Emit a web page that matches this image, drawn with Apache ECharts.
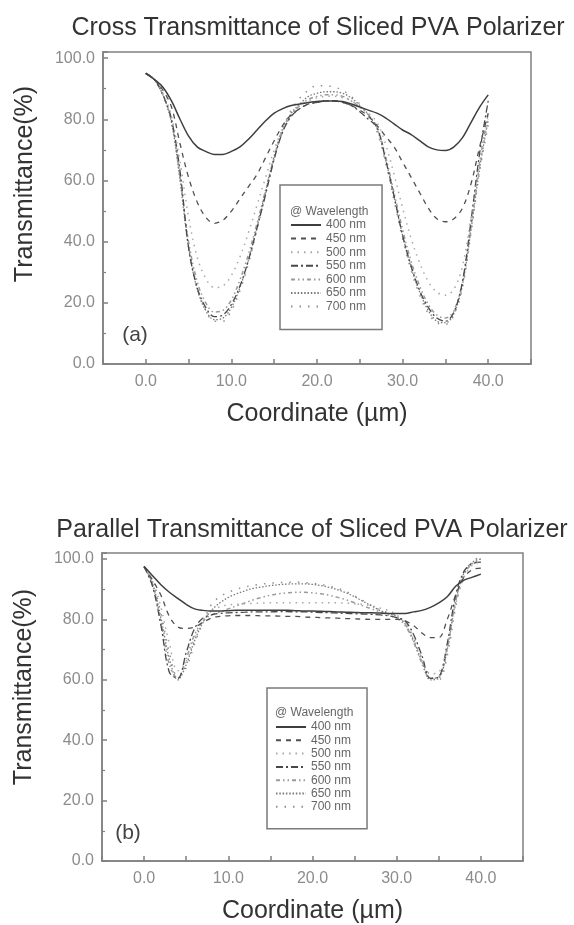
<!DOCTYPE html>
<html>
<head>
<meta charset="utf-8">
<script src="https://cdn.jsdelivr.net/npm/echarts@6/dist/echarts.min.js"></script>
<style>
  html, body { margin: 0; padding: 0; background: #fff; }
  #chart { width: 574px; height: 925px; }
</style>
</head>
<body>
<div id="chart"></div>
<script>
// x positions (µm)
const coords = [0,1,2,3,4,5,6,7,8,9,10,11,12,13,14,15,16,17,18,19,20,21,22,23,24,25,26,27,28,29,30,31,32,33,34,35,36,37,38,39,40]
const wavelengths = ['400 nm', '450 nm', '500 nm', '550 nm', '600 nm', '650 nm', '700 nm']
const xTicks = [0, 10, 20, 30, 40]
const yTicks = [0, 20, 40, 60, 80, 100]

// (a) cross transmittance
const cross400 = [95,93,90.5,86,80,74.5,71,69.5,68.5,68.5,69.5,71,73.5,76.5,79.5,82,83.5,84.5,85,85.5,85.8,86,86,85.8,85,84,83,82,80.5,78.5,76.5,75,73,71,70,69.8,71,74,79,84,88]
const cross450 = [95,93,89.5,84,72,61,53,48,46,47,50,54,58,62,67.5,73,78,81.5,83.5,85,85.5,86,86,85.5,84.5,83,81,78,74.5,71,66,61,56,51,47.5,46.5,47.5,51,59,71,82]
const cross500 = [95,93,88.5,81,66,48,35,28,25,25.5,29,35,43,52,61,70,77,81.5,84.5,86,87,87.5,87.5,87,86,84,82,79,72,62,51,41,33,27,23.5,22.5,24.5,32,48,65,80]
const cross550 = [95,93,88,80,63,38,25,18.5,15.5,16,19.5,25.5,34,44.5,55.5,67,76,81,83.5,85,85.5,86,86,85.5,84.5,82.5,80,77.5,67,55,42,32,24,18.5,15,14,17,27,47,69,86]
const cross600 = [95,93,88,79.5,61,40,27,20,17,17.5,21,27.5,36,46,57,67.5,76,81.5,84.5,86.5,87.5,88,88,87.5,86,84,81.5,77.5,68,56,44,33.5,25.5,19.5,16,15,17.5,27,45,66,82]
const cross650 = [95,93,88,79,60,38,24.5,17.5,14.5,15,18.5,25,34,45,56.5,68,77,82,85,87.5,88.5,89,89,88.5,87,84.5,81.5,77,67,54.5,42,31.5,23.5,17.5,14,13.5,16.5,26,44,64,80]
const cross700 = [95,93,88,79,61,39,25,17.5,14,14,17.5,24,33,44,56,67.5,77,83,87,89.5,91,91,90.5,89.5,87.5,85,81.5,76,66,53.5,41,30.5,22.5,16.5,13.5,13,16,25,43,63,78]

// (b) parallel transmittance
const par400 = [97.5,94.5,91.5,89,87,85,83.5,83,82.8,82.8,82.9,83,83,83,83,83,83,83,82.9,82.8,82.8,82.7,82.6,82.5,82.4,82.3,82.2,82.2,82.1,82,82,82,82.5,83,84,85.5,87.5,91,93,94,95]
const par450 = [97.5,93,88,81,77.5,77,77.5,79,80.5,81,81.2,81.3,81.3,81.3,81.2,81.2,81.1,81,81,80.8,80.7,80.6,80.5,80.4,80.3,80.2,80.1,80,80,80,80,79.5,78,75.5,74,74,80,88,94,96.5,97]
const par500 = [97.5,93,84,72,63,66,74,80,83,84.2,84.8,85,85.2,85.3,85.4,85.5,85.5,85.5,85.5,85.5,85.5,85.5,85.5,85.5,85.4,85.2,85,84.5,83.8,83,81.5,78.5,73.5,67,62,62.5,71,85,94,98,99]
const par550 = [97.5,91,78,62.5,60.5,69,77,80.5,81.5,82,82.2,82.3,82.4,82.5,82.5,82.5,82.6,82.6,82.5,82.5,82.4,82.3,82.2,82.1,82,81.9,81.8,81.7,81.5,81.2,80.6,79.5,75,68,60.5,61,72,88,96,98.5,99]
const par600 = [97.5,91.5,79,65,60.5,67,75,79.5,81.5,82.5,83.5,84.5,85.5,86.5,87.3,88,88.5,88.8,89,89,88.8,88.5,88,87.3,86.5,85.5,84.5,83.5,82.5,81.5,80.5,78,72.5,65.5,60.5,61,70,86,95,98.5,100]
const par650 = [97.5,92,80.5,67,60,65,73,79,83,85.5,87.3,88.5,89.5,90.3,90.8,91.2,91.5,91.7,91.8,91.8,91.6,91.2,90.6,89.8,88.8,87.5,86,84.5,83,82,81,78.5,73,66,60,60.5,70,86,95.5,99,100]
const par700 = [97.5,92.5,82,69,61,64,72,79,85,87.5,89,90,90.8,91.3,91.7,92,92.2,92.3,92.3,92.2,92,91.6,91,90.3,89.2,87.8,86.2,84.6,83.2,82.2,81.2,79,74,67,61,60,68,84,95,99,101]

const crossSets = [cross400, cross450, cross500, cross550, cross600, cross650, cross700]
const parSets = [par400, par450, par500, par550, par600, par650, par700]

const lineStyles = [
  { color: '#3e3e3e', type: 'solid', width: 1.5 },
  { color: '#505050', type: [5, 5], width: 1.3 },
  { color: '#a8a8a8', type: [1.5, 5], width: 1.5 },
  { color: '#484848', type: [7, 3, 2, 3], width: 1.3 },
  { color: '#9a9a9a', type: [4, 3, 1.5, 3, 1.5, 3], width: 1.5 },
  { color: '#7a7a7a', type: [1.5, 1.8], width: 1.3 },
  { color: '#909090', type: [1.5, 7], width: 1.5 }
]

const FONT = 'Arial, "Liberation Sans", sans-serif'
const axisColor = '#808080'

const makeSeries = (sets, idx) => {
  const out = []
  for (let i = sets.length - 1; i >= 0; i--) {
    out.push({
      name: wavelengths[i],
      type: 'line',
      xAxisIndex: idx,
      yAxisIndex: idx,
      data: coords.map((x, k) => [x, sets[i][k]]),
      smooth: 0.35,
      symbol: 'none',
      showSymbol: false,
      color: lineStyles[i].color,
      lineStyle: lineStyles[i],
      z: 2 + (sets.length - i),
      silent: true
    })
  }
  return out
}

const xAxisFor = (idx) => ({
  type: 'value',
  gridIndex: idx,
  min: -5,
  max: 45,
  interval: 5,
  name: 'Coordinate (\u00b5m)',
  nameLocation: 'middle',
  nameGap: 38,
  nameTextStyle: { fontSize: 25, color: '#333', fontFamily: FONT },
  axisLine: { onZero: false, lineStyle: { color: axisColor, width: 1.5 } },
  axisTick: { inside: true, length: 5, lineStyle: { color: axisColor, width: 1.5 } },
  axisLabel: {
    margin: 10, fontSize: 16, color: '#8c8c8c', fontFamily: FONT,
    formatter: v => xTicks.includes(v) ? v.toFixed(1) : ''
  },
  splitLine: { show: false }
})

const yAxisFor = (idx) => ({
  type: 'value',
  gridIndex: idx,
  min: 0,
  max: 102,
  interval: 20,
  axisLine: { onZero: false, lineStyle: { color: axisColor, width: 1.5 } },
  axisTick: { inside: true, length: 5, lineStyle: { color: axisColor, width: 1.5 } },
  minorTick: { show: true, splitNumber: 2, length: 3, lineStyle: { color: axisColor, width: 1.2 } },
  axisLabel: {
    margin: 8, fontSize: 16, color: '#8c8c8c', fontFamily: FONT,
    formatter: v => yTicks.includes(v) ? v.toFixed(1) : ''
  },
  splitLine: { show: false }
})

const legendFor = (left, top, padding, gap) => ({
  data: wavelengths,
  orient: 'vertical',
  left: left,
  top: top,
  padding: padding,
  itemWidth: 30,
  itemHeight: 14,
  itemGap: gap,
  borderColor: '#7a7a7a',
  borderWidth: 1.5,
  selectedMode: false,
  itemStyle: { opacity: 0, borderWidth: 0 },
  textStyle: { fontSize: 12, color: '#666', fontFamily: FONT }
})

const textEl = (text, x, y, size, color, rot) => ({
  type: 'text',
  x: x,
  y: y,
  rotation: rot || 0,
  style: {
    text: text,
    fontSize: size,
    fontFamily: FONT,
    fill: color,
    align: 'center',
    verticalAlign: 'middle'
  }
})

const chart = echarts.init(document.getElementById('chart'))
chart.setOption({
  backgroundColor: '#fff',
  animation: false,
  grid: [
    { left: 103, top: 52, width: 428, height: 312, show: true, borderColor: axisColor, borderWidth: 1.5 },
    { left: 102, top: 553, width: 421, height: 309, show: true, borderColor: axisColor, borderWidth: 1.5 }
  ],
  xAxis: [xAxisFor(0), xAxisFor(1)],
  yAxis: [yAxisFor(0), yAxisFor(1)],
  legend: [
    legendFor(280, 185, [34, 16, 17, 10], 1.6),
    legendFor(267, 688, [33, 16, 16, 8], 1.3)
  ],
  graphic: [
    textEl('Cross Transmittance of Sliced PVA Polarizer', 318, 28, 25, '#333'),
    textEl('Parallel Transmittance of Sliced PVA Polarizer', 312, 530, 25, '#333'),
    textEl('Transmittance(%)', 25, 184, 25, '#333', Math.PI / 2),
    textEl('Transmittance(%)', 24, 687, 25, '#333', Math.PI / 2),
    textEl('(a)', 135, 335, 21, '#444'),
    textEl('(b)', 128, 833, 21, '#444'),
    { type: 'text', x: 290, y: 212, style: { text: '@ Wavelength', fontSize: 12, fontFamily: FONT, fill: '#666', align: 'left', verticalAlign: 'middle' } },
    { type: 'text', x: 275, y: 713, style: { text: '@ Wavelength', fontSize: 12, fontFamily: FONT, fill: '#666', align: 'left', verticalAlign: 'middle' } }
  ],
  series: [...makeSeries(crossSets, 0), ...makeSeries(parSets, 1)]
})

window.addEventListener('resize', () => chart.resize())
</script>
</body>
</html>
